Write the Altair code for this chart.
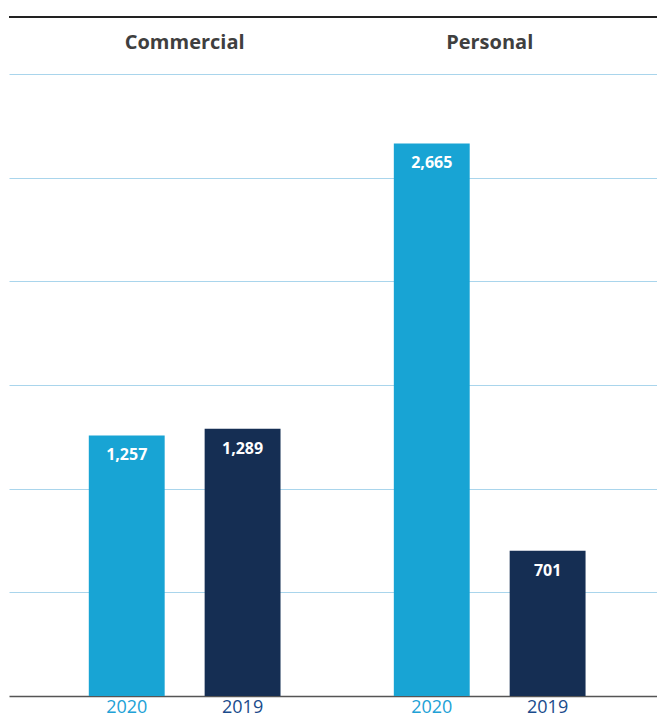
import altair as alt
import pandas as pd

# ---- data ----
groups = ["Commercial", "Commercial", "Personal", "Personal"]
years = ["2020", "2019", "2020", "2019"]
values = [1257, 1289, 2665, 701]
group_names = ["Commercial", "Personal"]
year_order = ["2020", "2019"]
bar_colors = ["#18a4d4", "#152e53"]
label_colors = {"2020": "#21a1d6", "2019": "#1a4b8c"}

df = pd.DataFrame({"group": groups, "year": years, "value": values})
df["labelColor"] = df["year"].map(label_colors)
hdr = pd.DataFrame({"group": group_names})

FONT = "Open Sans"
W, H = 648, 622

x_enc = alt.X(
    "group:N",
    sort=group_names,
    scale=alt.Scale(domain=group_names, paddingInner=0, paddingOuter=0.0622, align=0.61),
    axis=alt.Axis(labels=False, ticks=False, title=None, grid=False, domain=True,
                  domainColor="#555555", domainWidth=1.6),
)
xo_enc = alt.XOffset(
    "year:N",
    scale=alt.Scale(domain=year_order, paddingInner=0.345, paddingOuter=0.489),
)
y_enc = alt.Y(
    "value:Q",
    scale=alt.Scale(domain=[0, 3000], nice=False),
    axis=alt.Axis(values=[500, 1000, 1500, 2000, 2500, 3000], labels=False, ticks=False,
                  domain=False, title=None, grid=True, gridColor="#a9d5ec", gridWidth=1.2),
)

base = alt.Chart(df)

bars = base.mark_bar().encode(
    x=x_enc,
    xOffset=xo_enc,
    y=y_enc,
    color=alt.Color("year:N", scale=alt.Scale(domain=year_order, range=bar_colors), legend=None),
)

vals = base.mark_text(color="white", font=FONT, fontWeight="bold", fontSize=16,
                      baseline="middle", dy=20).encode(
    x=x_enc,
    xOffset=xo_enc,
    y=y_enc,
    text=alt.Text("value:Q", format=","),
)

year_lbl = base.mark_text(font=FONT, fontSize=18, baseline="middle").encode(
    x=x_enc,
    xOffset=xo_enc,
    y=alt.value(634),
    text="year:N",
    color=alt.Color("labelColor:N", scale=None),
)

headers = alt.Chart(hdr).mark_text(font=FONT, fontWeight="bold", fontSize=20,
                                   color="#3f3f3f", baseline="middle").encode(
    x=x_enc,
    y=alt.value(-31),
    text="group:N",
)

top_rule = alt.Chart(hdr).mark_rule(color="#222222", strokeWidth=2).encode(
    x=alt.value(0), x2=alt.value(W), y=alt.value(-57)
)

chart = (
    alt.layer(bars, vals, year_lbl, headers, top_rule)
    .properties(
        width=W,
        height=H,
        background="white",
        autosize=alt.AutoSizeParams(type="none"),
        padding={"left": 9, "top": 74, "right": 0, "bottom": 24},
    )
    .configure_view(strokeWidth=0, stroke="transparent")
)

chart.save("out.html", embed_options={"renderer": "svg", "actions": False})
